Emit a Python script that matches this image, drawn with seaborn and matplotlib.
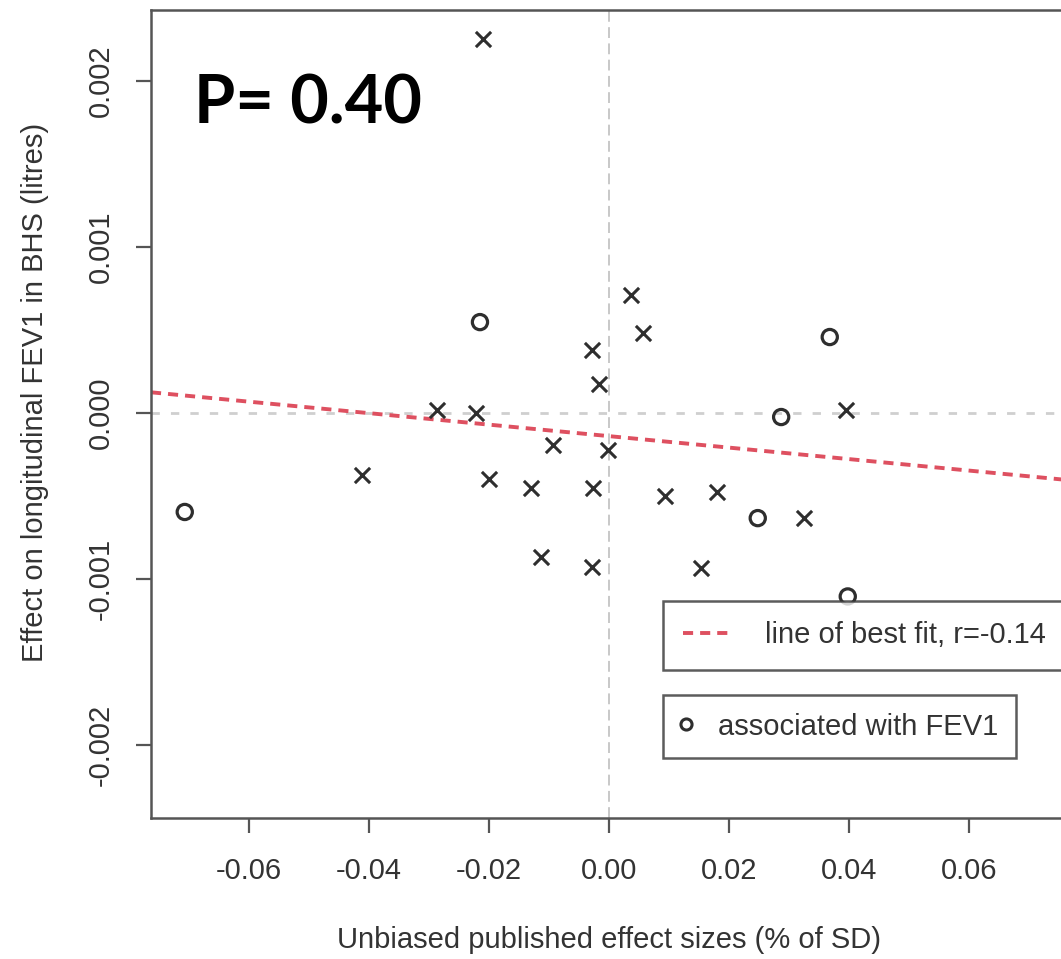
import numpy as np
import pandas as pd
import matplotlib
matplotlib.use("Agg")
import matplotlib.pyplot as plt
import seaborn as sns
from matplotlib.lines import Line2D

# ---- data ----
cross_x = [-0.0210, 0.0037, 0.0057, -0.0028, -0.0017, -0.0287, -0.0222, 0.0395,
           -0.0093, -0.0002, -0.0412, -0.0200, -0.0130, -0.0027, 0.0093, 0.0180,
           0.0325, -0.0113, -0.0028, 0.0153]
cross_y = [0.002253, 0.000711, 0.000482, 0.000380, 0.000175, 0.000018, 0.000000, 0.000018,
           -0.000193, -0.000223, -0.000373, -0.000398, -0.000452, -0.000452, -0.000500, -0.000476,
           -0.000633, -0.000869, -0.000928, -0.000934]
circle_x = [-0.0707, -0.0215, 0.0368, 0.0287, 0.0248, 0.0398]
circle_y = [-0.000596, 0.000548, 0.000458, -0.000024, -0.000633, -0.001105]
fit_slope = -0.00346
fit_intercept = -0.000139
fit_label = "line of best fit, r=-0.14"
circle_label = "associated with FEV1"
p_text = "P= 0.40"
x_ticks = [-0.06, -0.04, -0.02, 0.00, 0.02, 0.04, 0.06]
x_tick_labels = ["-0.06", "-0.04", "-0.02", "0.00", "0.02", "0.04", "0.06"]
y_ticks = [-0.002, -0.001, 0.000, 0.001, 0.002]
y_tick_labels = ["-0.002", "-0.001", "0.000", "0.001", "0.002"]
x_label = "Unbiased published effect sizes (% of SD)"
y_label = "Effect on longitudinal FEV1 in BHS (litres)"
x_limits = (-0.07633, 0.07633)
y_limits = (-0.00244, 0.002428)

sns.set_style("white")
plt.rcParams['font.family'] = ['Liberation Sans', 'DejaVu Sans']

fig = plt.figure(figsize=(10.61, 9.59), dpi=100)
ax = fig.add_axes([0.1423, 0.147, 0.8633, 0.8425])

dark = "#2e2e2e"
red = "#de5060"

# reference lines
ax.axvline(0, color="#c4c4c4", lw=1.3, ls=(0, (6, 3)), zorder=1)
ax.axhline(0, color="#cfcfcf", lw=2.0, ls=(0, (3, 4)), zorder=1)

# best fit line
fit_x = np.array(x_limits)
fit_df = pd.DataFrame({"x": fit_x, "y": fit_intercept + fit_slope * fit_x})
sns.lineplot(data=fit_df, x="x", y="y", ax=ax, color=red, lw=2.8,
             linestyle=(0, (2.6, 1.8)), zorder=2)

# points
cross_df = pd.DataFrame({"x": cross_x, "y": cross_y})
circle_df = pd.DataFrame({"x": circle_x, "y": circle_y})
sns.scatterplot(data=cross_df, x="x", y="y", ax=ax, marker="x", s=120,
                color=dark, linewidth=2.2, zorder=3)
sns.scatterplot(data=circle_df, x="x", y="y", ax=ax, marker="o", s=120,
                facecolor="none", edgecolor=dark, linewidth=2.3, zorder=3)
for coll in ax.collections[-1:]:
    coll.set_facecolor("none")
    coll.set_edgecolor(dark)

ax.set_xlim(*x_limits)
ax.set_ylim(*y_limits)
ax.set_xticks(x_ticks)
ax.set_xticklabels(x_tick_labels)
ax.set_yticks(y_ticks)
ax.set_yticklabels(y_tick_labels, rotation=90, va="center")

for s in ax.spines.values():
    s.set_color("#555555")
    s.set_linewidth(1.8)

ax.tick_params(axis="both", which="major", direction="out", length=11,
               width=1.6, color="#555555", labelsize=21, labelcolor="#333333",
               bottom=True, left=True)
ax.tick_params(axis="x", pad=17)
ax.tick_params(axis="y", pad=15)

ax.set_xlabel(x_label, fontsize=21, color="#333333")
ax.set_ylabel(y_label, fontsize=21, color="#333333")
ax.xaxis.set_label_coords(0.5, -0.151)
ax.xaxis.label.set_va("center")
ax.yaxis.set_label_coords(-0.1266, 0.527)
ax.yaxis.label.set_va("center")

# P value annotation
ax.text(0.047, 0.860, p_text, transform=ax.transAxes, fontsize=48,
        fontweight="bold", family=["Lato", "DejaVu Sans"], color="black",
        ha="left", va="baseline")

# legends
h1 = Line2D([], [], color=red, lw=2.8, linestyle=(0, (2.6, 1.8)))
leg1 = ax.legend(handles=[h1], labels=[fit_label], loc="upper left",
                 bbox_to_anchor=(0.559, 0.2686), borderaxespad=0, fontsize=21,
                 frameon=True, fancybox=False, edgecolor="#333333",
                 handlelength=1.6, handletextpad=1.2, borderpad=0.7)
leg1.get_frame().set_linewidth(1.8)
leg1.get_frame().set_facecolor("white")
for t in leg1.get_texts():
    t.set_color("#333333")
ax.add_artist(leg1)

h2 = Line2D([], [], color=dark, marker="o", markersize=8, markerfacecolor="none",
            markeredgewidth=2.2, linestyle="none")
leg2 = ax.legend(handles=[h2], labels=[circle_label], loc="upper left",
                 bbox_to_anchor=(0.559, 0.1522), borderaxespad=0, fontsize=21,
                 frameon=True, fancybox=False, edgecolor="#333333",
                 handlelength=0.4, handletextpad=0.9, borderpad=0.6)
leg2.get_frame().set_linewidth(1.8)
leg2.get_frame().set_facecolor("white")
for t in leg2.get_texts():
    t.set_color("#333333")

fig.savefig("out.png", dpi=100)
